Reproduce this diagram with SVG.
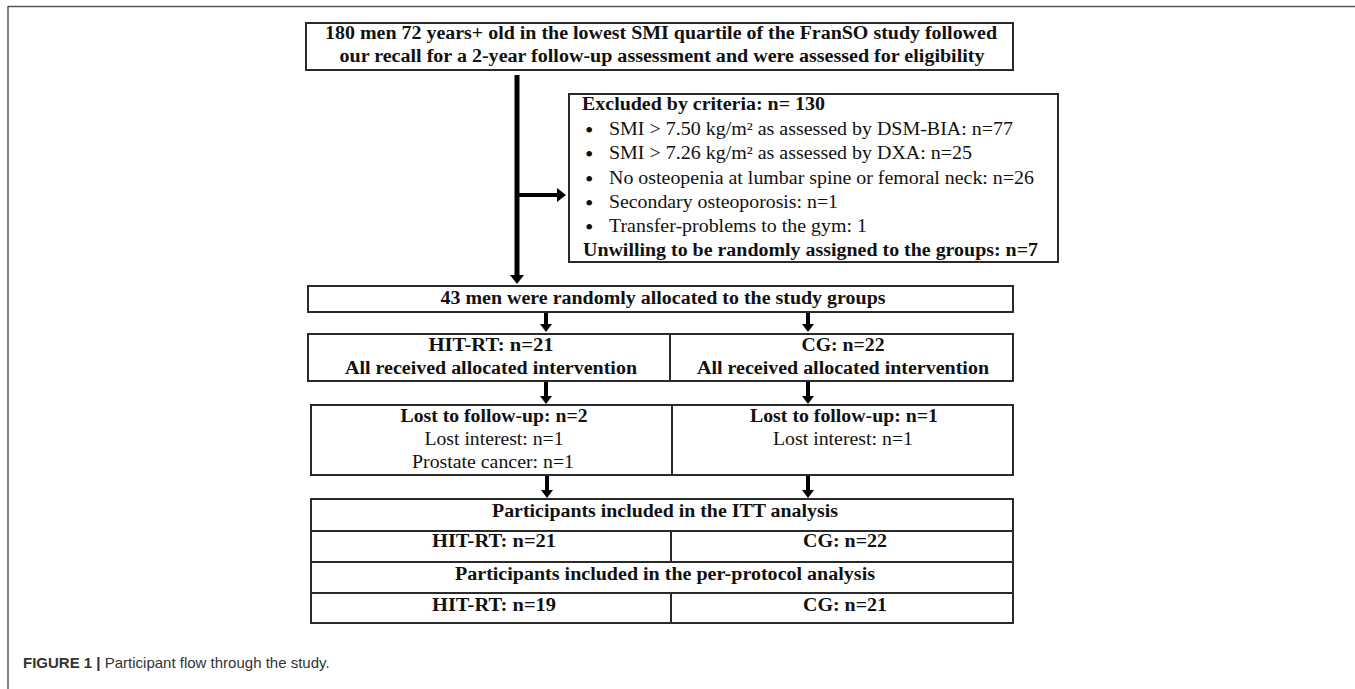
<svg xmlns="http://www.w3.org/2000/svg" width="1355" height="689" viewBox="0 0 1355 689">
<defs>
<style>
.box{fill:#fff;stroke:#2a2a2a;stroke-width:2}
.div{stroke:#2a2a2a;stroke-width:2}
.b{font-family:"Liberation Serif","Times New Roman",serif;font-weight:bold;font-size:18px;fill:#111}
.r{font-family:"Liberation Serif","Times New Roman",serif;font-size:18.5px;fill:#111}
.bul{font-family:"Liberation Serif","Times New Roman",serif;font-size:24px;fill:#111}
.c{text-anchor:middle}
.cap{font-family:"Liberation Sans",Arial,sans-serif;font-size:15px;fill:#333}
.arr{stroke:#000;fill:none}
</style>
<marker id="big" markerUnits="userSpaceOnUse" markerWidth="12" markerHeight="16" refX="2" refY="7" orient="auto">
<path d="M0,0 L9,7 L0,14 z" fill="#000"/>
</marker>
<marker id="small" markerUnits="userSpaceOnUse" markerWidth="10" markerHeight="13" refX="2" refY="6" orient="auto">
<path d="M0,0 L8,6 L0,12 z" fill="#000"/>
</marker>
</defs>
<rect width="1355" height="689" fill="#fff"/>
<g id="frame">
<line x1="8" y1="6.5" x2="1355" y2="6.5" stroke="#555" stroke-width="1.5"/>
<line x1="8" y1="6" x2="8" y2="689" stroke="#555" stroke-width="1.5"/>
</g>
<g id="n-screen">
<rect class="box" x="306" y="23" width="707" height="47"/>
<text class="b c" x="661" y="39" textLength="672" lengthAdjust="spacingAndGlyphs">180 men 72 years+ old in the lowest SMI quartile of the FranSO study followed</text>
<text class="b c" x="662" y="62" textLength="645" lengthAdjust="spacingAndGlyphs">our recall for a 2-year follow-up assessment and were assessed for eligibility</text>
</g>
<g id="n-excluded">
<rect class="box" x="569" y="94" width="489" height="168"/>
<text class="b" x="582" y="110" textLength="243" lengthAdjust="spacingAndGlyphs">Excluded by criteria: n= 130</text>
<g class="bul">
<text x="585" y="138">•</text>
<text x="585" y="162">•</text>
<text x="585" y="187">•</text>
<text x="585" y="211">•</text>
<text x="585" y="235">•</text>
</g>
<g class="r">
<text x="609" y="135" textLength="404" lengthAdjust="spacingAndGlyphs">SMI &gt; 7.50 kg/m² as assessed by DSM-BIA: n=77</text>
<text x="609" y="159" textLength="363" lengthAdjust="spacingAndGlyphs">SMI &gt; 7.26 kg/m² as assessed by DXA: n=25</text>
<text x="609" y="184" textLength="425" lengthAdjust="spacingAndGlyphs">No osteopenia at lumbar spine or femoral neck: n=26</text>
<text x="609" y="208" textLength="229" lengthAdjust="spacingAndGlyphs">Secondary osteoporosis: n=1</text>
<text x="609" y="232" textLength="258" lengthAdjust="spacingAndGlyphs">Transfer-problems to the gym: 1</text>
</g>
<text class="b" x="583" y="256" textLength="455" lengthAdjust="spacingAndGlyphs">Unwilling to be randomly assigned to the groups: n=7</text>
</g>
<g id="n-randomized">
<rect class="box" x="308" y="286" width="705" height="26"/>
<text class="b c" x="663" y="304" textLength="445" lengthAdjust="spacingAndGlyphs">43 men were randomly allocated to the study groups</text>
</g>
<g id="n-alloc-hit">
<rect class="box" x="308" y="334" width="362" height="47"/>
<text class="b c" x="491" y="351" textLength="125" lengthAdjust="spacingAndGlyphs">HIT-RT: n=21</text>
<text class="b c" x="491" y="374" textLength="292" lengthAdjust="spacingAndGlyphs">All received allocated intervention</text>
</g>
<g id="n-alloc-cg">
<rect class="box" x="670" y="334" width="343" height="47"/>
<text class="b c" x="843" y="351" textLength="83" lengthAdjust="spacingAndGlyphs">CG: n=22</text>
<text class="b c" x="843" y="374" textLength="292" lengthAdjust="spacingAndGlyphs">All received allocated intervention</text>
</g>
<g id="n-lost-hit">
<rect class="box" x="311" y="405" width="361" height="70"/>
<text class="b c" x="494" y="422" textLength="187" lengthAdjust="spacingAndGlyphs">Lost to follow-up: n=2</text>
<text class="r c" x="494" y="445" textLength="139" lengthAdjust="spacingAndGlyphs">Lost interest: n=1</text>
<text class="r c" x="493" y="468" textLength="162" lengthAdjust="spacingAndGlyphs">Prostate cancer: n=1</text>
</g>
<g id="n-lost-cg">
<rect class="box" x="672" y="405" width="341" height="70"/>
<text class="b c" x="844" y="422" textLength="188" lengthAdjust="spacingAndGlyphs">Lost to follow-up: n=1</text>
<text class="r c" x="843" y="445" textLength="140" lengthAdjust="spacingAndGlyphs">Lost interest: n=1</text>
</g>
<g id="n-analysis">
<rect class="box" x="311" y="499" width="702" height="124"/>
<line class="div" x1="311" y1="531" x2="1013" y2="531"/>
<line class="div" x1="311" y1="562" x2="1013" y2="562"/>
<line class="div" x1="311" y1="593" x2="1013" y2="593"/>
<line class="div" x1="671" y1="531" x2="671" y2="562"/>
<line class="div" x1="671" y1="593" x2="671" y2="623"/>
<text class="b c" x="665" y="517" textLength="346" lengthAdjust="spacingAndGlyphs">Participants included in the ITT analysis</text>
<text class="b c" x="494" y="547" textLength="124" lengthAdjust="spacingAndGlyphs">HIT-RT: n=21</text>
<text class="b c" x="845" y="547" textLength="84" lengthAdjust="spacingAndGlyphs">CG: n=22</text>
<text class="b c" x="665" y="580" textLength="420" lengthAdjust="spacingAndGlyphs">Participants included in the per-protocol analysis</text>
<text class="b c" x="494" y="611" textLength="124" lengthAdjust="spacingAndGlyphs">HIT-RT: n=19</text>
<text class="b c" x="845" y="611" textLength="84" lengthAdjust="spacingAndGlyphs">CG: n=21</text>
</g>
<g id="connectors">
<line class="arr" x1="517" y1="75" x2="517" y2="277" stroke-width="5" marker-end="url(#big)"/>
<line class="arr" x1="519" y1="195" x2="559" y2="195" stroke-width="4" marker-end="url(#big)"/>
<line class="arr" x1="546" y1="313" x2="546" y2="326" stroke-width="4" marker-end="url(#small)"/>
<line class="arr" x1="808" y1="313" x2="808" y2="326" stroke-width="4" marker-end="url(#small)"/>
<line class="arr" x1="546" y1="382" x2="546" y2="398" stroke-width="4" marker-end="url(#small)"/>
<line class="arr" x1="808" y1="382" x2="808" y2="398" stroke-width="4" marker-end="url(#small)"/>
<line class="arr" x1="547" y1="476" x2="547" y2="492" stroke-width="4" marker-end="url(#small)"/>
<line class="arr" x1="808" y1="476" x2="808" y2="492" stroke-width="4" marker-end="url(#small)"/>
</g>
<text class="cap" x="23" y="668"><tspan font-weight="bold">FIGURE 1 |</tspan> Participant flow through the study.</text>
</svg>
